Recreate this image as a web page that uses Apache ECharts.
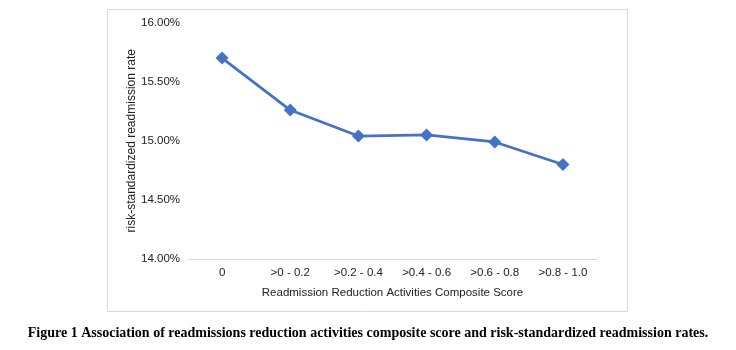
<!DOCTYPE html>
<html>
<head>
<meta charset="utf-8">
<script src="https://cdn.jsdelivr.net/npm/echarts@6/dist/echarts.min.js"></script>
<style>
  html, body { margin: 0; padding: 0; background: #fff; }
  #chart { width: 736px; height: 350px; }
</style>
</head>
<body>
<div id="chart"></div>
<script>
// 分组（综合评分区间）
const categories = ['0', '>0 - 0.2', '>0.2 - 0.4', '>0.4 - 0.6', '>0.6 - 0.8', '>0.8 - 1.0']
// 风险标准化再入院率（%）
const rates = [15.70, 15.26, 15.04, 15.05, 14.99, 14.80]
const yTicks = [14.0, 14.5, 15.0, 15.5, 16.0]

const myChart = echarts.init(document.getElementById('chart'))
const option = {
  animation: false,
  textStyle: { fontFamily: 'Liberation Sans, Arial, sans-serif' },
  graphic: [
    {
      type: 'rect',
      shape: { x: 107.5, y: 9.5, width: 520, height: 302 },
      style: { fill: 'none', stroke: '#d9d9d9', lineWidth: 1 },
      silent: true
    },
    {
      type: 'text',
      left: 'center',
      top: 326,
      style: {
        text: 'Figure 1 Association of readmissions reduction activities composite score and risk-standardized readmission rates.',
        font: 'bold 14px "Liberation Serif", "Times New Roman", serif',
        fill: '#000'
      }
    }
  ],
  grid: { left: 188, right: 139, top: 22.6, bottom: 91 },
  xAxis: {
    type: 'category',
    data: categories,
    boundaryGap: true,
    axisLine: { lineStyle: { color: '#d9d9d9', width: 1 } },
    axisTick: { show: false },
    axisLabel: { color: '#222', fontSize: 11.5, margin: 8, interval: 0 },
    name: 'Readmission Reduction Activities Composite Score',
    nameLocation: 'middle',
    nameGap: 28,
    nameTextStyle: { color: '#222', fontSize: 11.5 }
  },
  yAxis: {
    type: 'value',
    min: yTicks[0],
    max: yTicks[yTicks.length - 1],
    interval: 0.5,
    splitLine: { show: false },
    axisLine: { show: false },
    axisTick: { show: false },
    axisLabel: {
      color: '#222',
      fontSize: 11.5,
      margin: 8,
      formatter: v => v.toFixed(2) + '%'
    },
    name: 'risk-standardized readmission rate',
    nameLocation: 'middle',
    nameGap: 50,
    nameMoveOverlap: false,
    nameTextStyle: { color: '#222', fontSize: 12 }
  },
  series: [
    {
      type: 'line',
      data: rates,
      symbol: 'diamond',
      symbolSize: 13,
      lineStyle: { color: '#4472C4', width: 2.75 },
      itemStyle: { color: '#4472C4' }
    }
  ]
}
myChart.setOption(option)
</script>
</body>
</html>
